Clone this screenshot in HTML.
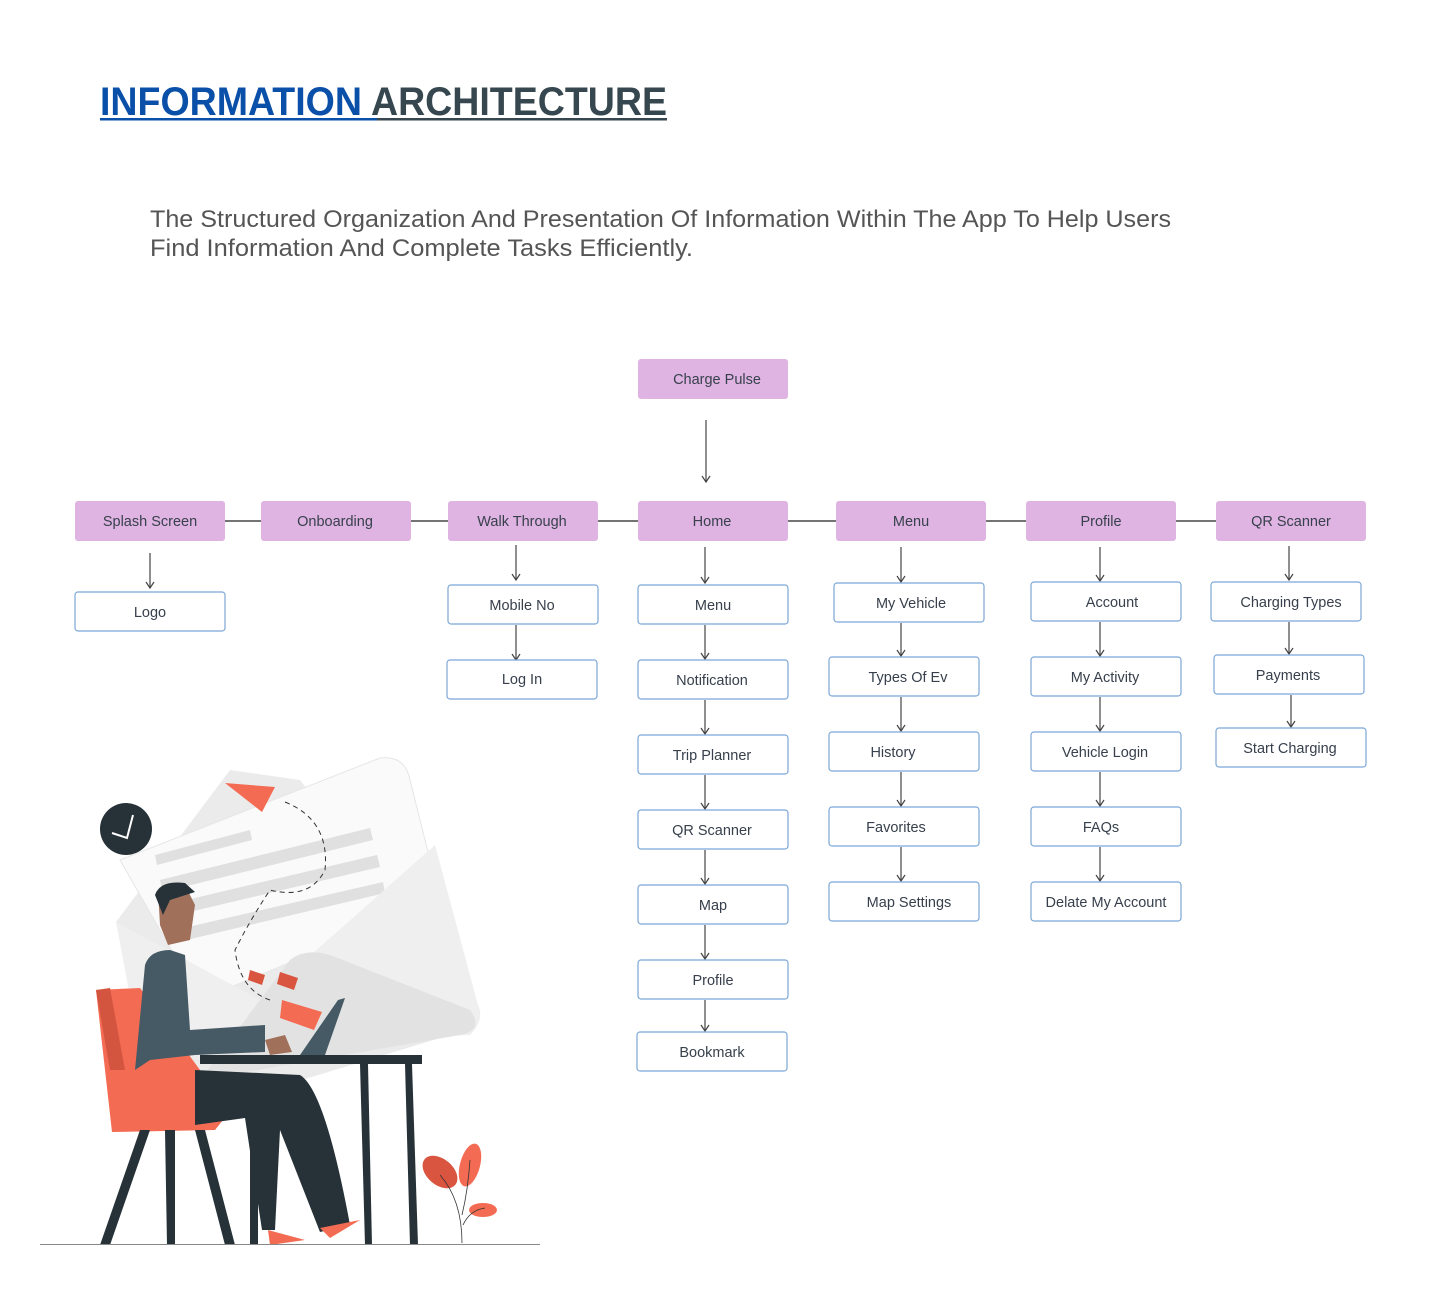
<!DOCTYPE html>
<html><head><meta charset="utf-8"><style>
html,body{margin:0;padding:0;background:#fff;}
svg{display:block;font-family:"Liberation Sans",sans-serif;}
.p{fill:#dfb4e2;}
.w{fill:#fff;stroke:#7ba7d6;stroke-width:1.2;}
.t{font-size:14.5px;fill:#37404c;text-anchor:middle;}
.a{stroke:#444;stroke-width:1.2;fill:none;}
</style></head><body>
<svg width="1440" height="1310" viewBox="0 0 1440 1310">
<defs><marker id="ar" markerWidth="10" markerHeight="10" refX="7" refY="5" orient="auto" markerUnits="userSpaceOnUse"><path d="M1,1 L7,5 L1,9" fill="none" stroke="#444" stroke-width="1.2"/></marker></defs>
<text x="100" y="115" font-size="40" font-weight="bold" textLength="567" lengthAdjust="spacingAndGlyphs"><tspan fill="#0a4fa8">INFORMATION </tspan><tspan fill="#37474f">ARCHITECTURE</tspan></text>
<rect x="100" y="118" width="277" height="2.5" fill="#0a4fa8"/><rect x="377" y="118" width="290" height="2.5" fill="#37474f"/>
<text x="150" y="227" font-size="24" fill="#555" textLength="1021" lengthAdjust="spacingAndGlyphs">The Structured Organization And Presentation Of Information Within The App To Help Users</text>
<text x="150" y="256" font-size="24" fill="#555" textLength="543" lengthAdjust="spacingAndGlyphs">Find Information And Complete Tasks Efficiently.</text>

<line x1="225" y1="521" x2="1216" y2="521" stroke="#222" stroke-width="1.2"/>
<rect class="p" x="638" y="359" width="150" height="40" rx="3"/><text class="t" x="717" y="384">Charge Pulse</text>
<line class="a" x1="706" y1="420" x2="706" y2="482" marker-end="url(#ar)"/>
<g>
<rect class="p" x="75" y="501" width="150" height="40" rx="3"/><text class="t" x="150" y="526">Splash Screen</text>
<rect class="p" x="261" y="501" width="150" height="40" rx="3"/><text class="t" x="335" y="526">Onboarding</text>
<rect class="p" x="448" y="501" width="150" height="40" rx="3"/><text class="t" x="522" y="526">Walk Through</text>
<rect class="p" x="638" y="501" width="150" height="40" rx="3"/><text class="t" x="712" y="526">Home</text>
<rect class="p" x="836" y="501" width="150" height="40" rx="3"/><text class="t" x="911" y="526">Menu</text>
<rect class="p" x="1026" y="501" width="150" height="40" rx="3"/><text class="t" x="1101" y="526">Profile</text>
<rect class="p" x="1216" y="501" width="150" height="40" rx="3"/><text class="t" x="1291" y="526">QR Scanner</text>
</g>
<g>
<line class="a" x1="150" y1="553" x2="150" y2="588" marker-end="url(#ar)"/>
<rect class="w" x="75" y="592" width="150" height="39" rx="3"/><text class="t" x="150" y="617">Logo</text>
<line class="a" x1="516" y1="545" x2="516" y2="580" marker-end="url(#ar)"/>
<rect class="w" x="448" y="585" width="150" height="39" rx="3"/><text class="t" x="522" y="610">Mobile No</text>
<line class="a" x1="516" y1="625" x2="516" y2="660" marker-end="url(#ar)"/>
<rect class="w" x="447" y="660" width="150" height="39" rx="3"/><text class="t" x="522" y="684">Log In</text>
</g>
<g>
<line class="a" x1="705" y1="547" x2="705" y2="583" marker-end="url(#ar)"/>
<rect class="w" x="638" y="585" width="150" height="39" rx="3"/><text class="t" x="713" y="610">Menu</text>
<line class="a" x1="705" y1="625" x2="705" y2="659" marker-end="url(#ar)"/>
<rect class="w" x="638" y="660" width="150" height="39" rx="3"/><text class="t" x="712" y="685">Notification</text>
<line class="a" x1="705" y1="700" x2="705" y2="734" marker-end="url(#ar)"/>
<rect class="w" x="638" y="735" width="150" height="39" rx="3"/><text class="t" x="712" y="760">Trip Planner</text>
<line class="a" x1="705" y1="775" x2="705" y2="809" marker-end="url(#ar)"/>
<rect class="w" x="638" y="810" width="150" height="39" rx="3"/><text class="t" x="712" y="835">QR Scanner</text>
<line class="a" x1="705" y1="850" x2="705" y2="884" marker-end="url(#ar)"/>
<rect class="w" x="638" y="885" width="150" height="39" rx="3"/><text class="t" x="713" y="910">Map</text>
<line class="a" x1="705" y1="925" x2="705" y2="959" marker-end="url(#ar)"/>
<rect class="w" x="638" y="960" width="150" height="39" rx="3"/><text class="t" x="713" y="985">Profile</text>
<line class="a" x1="705" y1="1000" x2="705" y2="1031" marker-end="url(#ar)"/>
<rect class="w" x="637" y="1032" width="150" height="39" rx="3"/><text class="t" x="712" y="1057">Bookmark</text>
</g>
<g>
<line class="a" x1="901" y1="547" x2="901" y2="582" marker-end="url(#ar)"/>
<rect class="w" x="834" y="583" width="150" height="39" rx="3"/><text class="t" x="911" y="608">My Vehicle</text>
<line class="a" x1="901" y1="623" x2="901" y2="656" marker-end="url(#ar)"/>
<rect class="w" x="829" y="657" width="150" height="39" rx="3"/><text class="t" x="908" y="682">Types Of Ev</text>
<line class="a" x1="901" y1="697" x2="901" y2="731" marker-end="url(#ar)"/>
<rect class="w" x="829" y="732" width="150" height="39" rx="3"/><text class="t" x="893" y="757">History</text>
<line class="a" x1="901" y1="772" x2="901" y2="806" marker-end="url(#ar)"/>
<rect class="w" x="829" y="807" width="150" height="39" rx="3"/><text class="t" x="896" y="832">Favorites</text>
<line class="a" x1="901" y1="847" x2="901" y2="881" marker-end="url(#ar)"/>
<rect class="w" x="829" y="882" width="150" height="39" rx="3"/><text class="t" x="909" y="907">Map Settings</text>
</g>
<g>
<line class="a" x1="1100" y1="547" x2="1100" y2="581" marker-end="url(#ar)"/>
<rect class="w" x="1031" y="582" width="150" height="39" rx="3"/><text class="t" x="1112" y="607">Account</text>
<line class="a" x1="1100" y1="622" x2="1100" y2="656" marker-end="url(#ar)"/>
<rect class="w" x="1031" y="657" width="150" height="39" rx="3"/><text class="t" x="1105" y="682">My Activity</text>
<line class="a" x1="1100" y1="697" x2="1100" y2="731" marker-end="url(#ar)"/>
<rect class="w" x="1031" y="732" width="150" height="39" rx="3"/><text class="t" x="1105" y="757">Vehicle Login</text>
<line class="a" x1="1100" y1="772" x2="1100" y2="806" marker-end="url(#ar)"/>
<rect class="w" x="1031" y="807" width="150" height="39" rx="3"/><text class="t" x="1101" y="832">FAQs</text>
<line class="a" x1="1100" y1="847" x2="1100" y2="881" marker-end="url(#ar)"/>
<rect class="w" x="1031" y="882" width="150" height="39" rx="3"/><text class="t" x="1106" y="907">Delate My Account</text>
</g>
<g>
<line class="a" x1="1289" y1="546" x2="1289" y2="580" marker-end="url(#ar)"/>
<rect class="w" x="1211" y="582" width="150" height="39" rx="3"/><text class="t" x="1291" y="607">Charging Types</text>
<line class="a" x1="1289" y1="622" x2="1289" y2="654" marker-end="url(#ar)"/>
<rect class="w" x="1214" y="655" width="150" height="39" rx="3"/><text class="t" x="1288" y="680">Payments</text>
<line class="a" x1="1291" y1="695" x2="1291" y2="727" marker-end="url(#ar)"/>
<rect class="w" x="1216" y="728" width="150" height="39" rx="3"/><text class="t" x="1290" y="753">Start Charging</text>
</g>

<!-- illustration -->
<g>
<path d="M116,922 L230,770 L300,780 L470,1000 Q480,1030 450,1035 L170,1120 Z" fill="#ebebeb"/>
<path d="M120,860 L380,758 Q405,755 410,780 L440,900 L200,1000 Z" fill="#fafafa" stroke="#e6e6e6"/>
<path d="M155,855 L250,830 L252,840 L157,865 Z M160,880 L370,828 L373,840 L163,892 Z M165,905 L377,855 L380,867 L168,917 Z M175,930 L383,882 L385,893 L178,942 Z" fill="#e0e0e0"/>
<path d="M116,922 L140,1050 L470,1035 Q485,1020 478,1005 L435,845 L260,1000 Z" fill="#efefef"/>
<path d="M200,1080 L290,960 Q305,948 330,955 L470,1010 Q485,1030 460,1035 Z" fill="#e2e2e2"/>
<path d="M225,783 L275,787 L262,812 Z" fill="#f46b53"/>
<path d="M285,802 Q330,820 325,870 Q310,900 270,890 Q250,920 235,950 Q240,990 270,1000" fill="none" stroke="#333" stroke-width="1" stroke-dasharray="5,4"/>
<circle cx="126" cy="829" r="26" fill="#263238"/><path d="M112,833 L127,838 L133,815" stroke="#fff" stroke-width="2" fill="none"/>
<path d="M250,970 L265,975 L262,985 L248,980 Z M280,972 L298,978 L294,990 L277,984 Z" fill="#d9553f"/>
<path d="M282,1000 L322,1012 L314,1030 L280,1018 Z" fill="#f46b53"/>
<path d="M96,990 L140,988 L200,1070 L223,1120 L215,1130 L112,1132 Z" fill="#f46b53"/>
<path d="M96,990 L110,988 L125,1070 L110,1070 Z" fill="#d4553f"/>
<path d="M145,965 Q150,950 170,950 L185,955 L190,1030 L265,1025 L265,1052 L195,1055 L150,1060 L135,1070 Z" fill="#455a64"/>
<path d="M158,890 Q165,880 185,885 L195,905 L190,940 L168,945 L160,925 Z" fill="#a0705a"/>
<path d="M155,895 Q160,880 185,883 L195,892 L170,900 L163,915 Z" fill="#263238"/>
<path d="M265,1040 L285,1035 L292,1052 L270,1055 Z" fill="#a0705a"/>
<path d="M338,1000 L345,998 L325,1055 L300,1055 Z" fill="#455a64"/>
<rect x="200" y="1055" width="222" height="9" fill="#263238"/>
<path d="M195,1070 L300,1075 Q325,1090 350,1225 L320,1232 L280,1130 L275,1230 L262,1230 L245,1118 L195,1125 Z" fill="#263238"/>
<path d="M360,1064 L368,1064 L372,1245 L365,1245 Z M405,1064 L412,1064 L418,1245 L410,1245 Z M250,1115 L258,1115 L258,1245 L250,1245 Z" fill="#263238"/>
<path d="M140,1130 L150,1130 L110,1245 L100,1245 Z M195,1130 L205,1130 L235,1245 L225,1245 Z M165,1130 L175,1130 L175,1245 L167,1245 Z" fill="#263238"/>
<path d="M268,1230 L305,1240 L270,1245 Z M320,1228 L360,1220 L330,1238 Z" fill="#f46b53"/>
<ellipse cx="440" cy="1172" rx="20" ry="13" transform="rotate(40 440 1172)" fill="#d9553f"/>
<ellipse cx="470" cy="1165" rx="10" ry="22" transform="rotate(15 470 1165)" fill="#f46b53"/>
<ellipse cx="483" cy="1210" rx="14" ry="7" fill="#f46b53"/>
<path d="M462,1243 Q462,1200 440,1175 M462,1215 Q468,1190 470,1160 M463,1225 Q470,1210 485,1208" stroke="#333" fill="none" stroke-width="0.8"/>
<line x1="40" y1="1244.5" x2="540" y2="1244.5" stroke="#888" stroke-width="1"/>
</g>
</svg>
</body></html>
